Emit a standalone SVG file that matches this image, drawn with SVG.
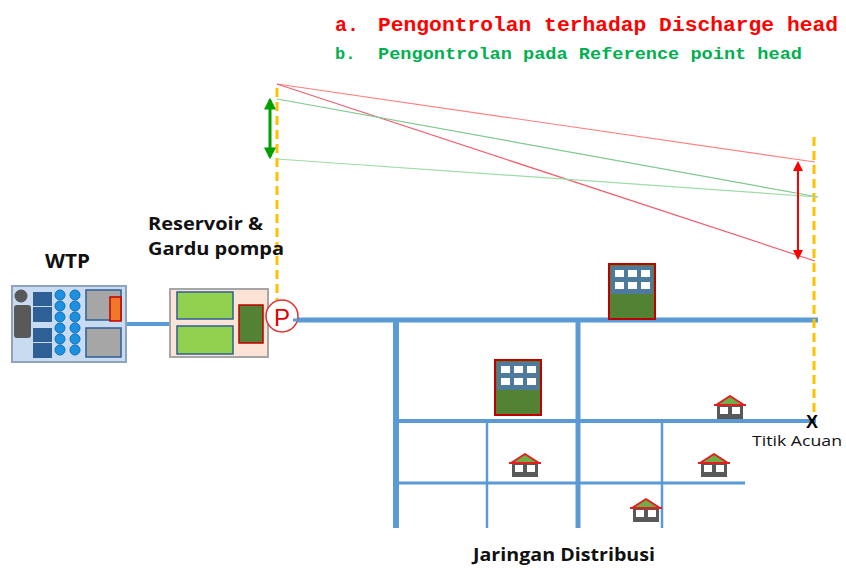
<svg xmlns="http://www.w3.org/2000/svg" width="846" height="568" viewBox="0 0 846 568">
  <style>
    .pipe { stroke: #5B9BD5; fill: none; }
    .dash { stroke: #FFC000; stroke-width: 3; stroke-dasharray: 9 5; fill: none; }
    .lbl { font-family: "Open Sans", "Liberation Sans", sans-serif; font-weight: bold; fill: #111; }
    .mono { font-family: "Liberation Mono", "Courier New", monospace; font-weight: bold; }
  </style>
  <defs>
    <marker id="ahG" viewBox="0 0 10 10" refX="8" refY="5" markerWidth="4" markerHeight="4" orient="auto-start-reverse">
      <path d="M0,0 L10,5 L0,10 z" fill="#00A000"/>
    </marker>
    <marker id="ahR" viewBox="0 0 10 10" refX="8" refY="5" markerWidth="5" markerHeight="5" orient="auto-start-reverse">
      <path d="M0,0 L10,5 L0,10 z" fill="#FF0000"/>
    </marker>
    <g id="house">
      <rect x="-13" y="10" width="26" height="14" fill="#595959"/>
      <rect x="-10" y="12" width="8" height="7" fill="#fff"/>
      <rect x="2" y="12" width="8" height="7" fill="#fff"/>
      <polygon points="0,1 -14,10 14,10" fill="#70AD47" stroke="#E02020" stroke-width="2" stroke-linejoin="round"/>
      <line x1="-16" y1="10" x2="16" y2="10" stroke="#E02020" stroke-width="2"/>
    </g>
    <g id="block">
      <rect x="0" y="0" width="46" height="55" fill="#548235" stroke="#C00000" stroke-width="2"/>
      <rect x="2" y="2" width="42" height="28" fill="#4E7B9B"/>
      <g fill="#fff">
        <rect x="6" y="6" width="9" height="7"/><rect x="19" y="6" width="9" height="7"/><rect x="32" y="6" width="9" height="7"/>
        <rect x="6" y="18" width="9" height="7"/><rect x="19" y="18" width="9" height="7"/><rect x="32" y="18" width="9" height="7"/>
      </g>
    </g>
  </defs>

  <rect width="846" height="568" fill="#fff"/>

  <!-- legend -->
  <g id="legend" class="mono">
    <text x="335" y="31" font-size="20" fill="#FF0000">a.</text>
    <text x="378" y="31" font-size="20" fill="#FF0000" textLength="460" lengthAdjust="spacingAndGlyphs">Pengontrolan terhadap Discharge head</text>
    <text x="335" y="59" font-size="17" fill="#00B050">b.</text>
    <text x="378" y="59" font-size="16" fill="#00B050" textLength="424" lengthAdjust="spacingAndGlyphs">Pengontrolan pada Reference point head</text>
  </g>

  <!-- pipes -->
  <g id="connectors">
    <line class="pipe" x1="126" y1="324" x2="171" y2="324" stroke-width="4"/>
    <line class="pipe" x1="292" y1="320" x2="818" y2="320" stroke-width="5"/>
    <line class="pipe" x1="396" y1="320" x2="396" y2="528" stroke-width="6"/>
    <line class="pipe" x1="578" y1="320" x2="578" y2="528" stroke-width="5"/>
    <line class="pipe" x1="396" y1="421" x2="816" y2="421" stroke-width="4"/>
    <line class="pipe" x1="396" y1="483" x2="745" y2="483" stroke-width="3"/>
    <line class="pipe" x1="487" y1="421" x2="487" y2="528" stroke-width="2.5"/>
    <line class="pipe" x1="662" y1="421" x2="662" y2="528" stroke-width="2.5"/>

    <!-- reference verticals -->
    <line class="dash" x1="277" y1="88" x2="277" y2="300"/>
    <line class="dash" x1="814" y1="137" x2="814" y2="412"/>

    <!-- head lines -->
    <line x1="277" y1="84" x2="815" y2="162" stroke="#FF8080" stroke-width="1.2"/>
    <line x1="277" y1="84" x2="815" y2="261" stroke="#F06070" stroke-width="1.2"/>
    <line x1="277" y1="99" x2="818" y2="197" stroke="#80C890" stroke-width="1.2"/>
    <line x1="277" y1="159" x2="818" y2="197" stroke="#A0DCA8" stroke-width="1.2"/>

    <!-- head range arrows -->
    <line x1="270" y1="100" x2="270" y2="157" stroke="#00A000" stroke-width="3" marker-start="url(#ahG)" marker-end="url(#ahG)"/>
    <line x1="798" y1="163" x2="798" y2="258" stroke="#FF0000" stroke-width="2" marker-start="url(#ahR)" marker-end="url(#ahR)"/>
  </g>

  <!-- WTP -->
  <g id="wtp">
    <rect x="12" y="286" width="114" height="76" fill="#C9DBF0" stroke="#8EA3BC" stroke-width="2"/>
    <circle cx="21" cy="296" r="6.5" fill="#595959"/>
    <rect x="14" y="305" width="17" height="33" rx="3" fill="#595959"/>
    <g fill="#2E5F95">
      <rect x="33" y="292" width="19" height="14"/>
      <rect x="33" y="307" width="19" height="15"/>
      <rect x="33" y="328" width="19" height="14"/>
      <rect x="33" y="343" width="19" height="15"/>
    </g>
    <g fill="#1E90E0" stroke="#0F6FB8" stroke-width="1">
      <circle cx="60" cy="295" r="5"/><circle cx="60" cy="306" r="5"/><circle cx="60" cy="317" r="5"/>
      <circle cx="60" cy="328" r="5"/><circle cx="60" cy="339" r="5"/><circle cx="60" cy="350" r="5"/>
      <circle cx="75" cy="295" r="5"/><circle cx="75" cy="306" r="5"/><circle cx="75" cy="317" r="5"/>
      <circle cx="75" cy="328" r="5"/><circle cx="75" cy="339" r="5"/><circle cx="75" cy="350" r="5"/>
    </g>
    <rect x="86" y="290" width="35" height="30" fill="#A6A6A6" stroke="#2E5F95" stroke-width="1.5"/>
    <rect x="86" y="328" width="35" height="29" fill="#A6A6A6" stroke="#2E5F95" stroke-width="1.5"/>
    <rect x="110" y="297" width="11" height="24" fill="#F07828" stroke="#C00000" stroke-width="1.5"/>
    <text class="lbl" x="45" y="268" font-size="19" textLength="45" lengthAdjust="spacingAndGlyphs">WTP</text>
  </g>

  <!-- reservoir and pump house -->
  <g id="reservoir">
    <rect x="170" y="289" width="98" height="68" fill="#FBE3D6" stroke="#A6A6A6" stroke-width="2"/>
    <rect x="177" y="292" width="56" height="27" fill="#92D050" stroke="#2E5F95" stroke-width="1.5"/>
    <rect x="177" y="326" width="56" height="28" fill="#92D050" stroke="#2E5F95" stroke-width="1.5"/>
    <rect x="239" y="305" width="24" height="38" fill="#548235" stroke="#C00000" stroke-width="1.5"/>
    <text class="lbl" x="148" y="230" font-size="18" textLength="115" lengthAdjust="spacingAndGlyphs">Reservoir &amp;</text>
    <text class="lbl" x="148" y="255" font-size="18" textLength="136" lengthAdjust="spacingAndGlyphs">Gardu pompa</text>
  </g>

  <!-- pump -->
  <g id="pump">
    <circle cx="282" cy="316" r="16" fill="#fff" stroke="#E03030" stroke-width="1.5"/>
    <text x="282" y="326" font-family="Liberation Sans, Arial, sans-serif" font-size="24" fill="#E00000" text-anchor="middle">P</text>
    <line x1="293" y1="320" x2="298" y2="320" stroke="#5B9BD5" stroke-width="3"/>
  </g>

  <!-- consumers -->
  <g id="building-1"><use href="#block" x="609" y="264"/></g>
  <g id="building-2"><use href="#block" x="495" y="360"/></g>
  <g id="house-1"><use href="#house" x="730" y="395"/></g>
  <g id="house-2"><use href="#house" x="525" y="453"/></g>
  <g id="house-3"><use href="#house" x="714" y="453"/></g>
  <g id="house-4"><use href="#house" x="646" y="498"/></g>

  <!-- reference point -->
  <g id="reference-point">
    <text x="812" y="428" font-family="Liberation Sans, Arial, sans-serif" font-weight="bold" font-size="18" fill="#000" text-anchor="middle">X</text>
    <text x="752" y="446" font-family="Open Sans, Liberation Sans, sans-serif" font-size="14" fill="#111" textLength="90" lengthAdjust="spacingAndGlyphs">Titik  Acuan</text>
  </g>

  <g id="network-label">
    <text class="lbl" x="473" y="561" font-size="18" textLength="182" lengthAdjust="spacingAndGlyphs">Jaringan Distribusi</text>
  </g>
</svg>
